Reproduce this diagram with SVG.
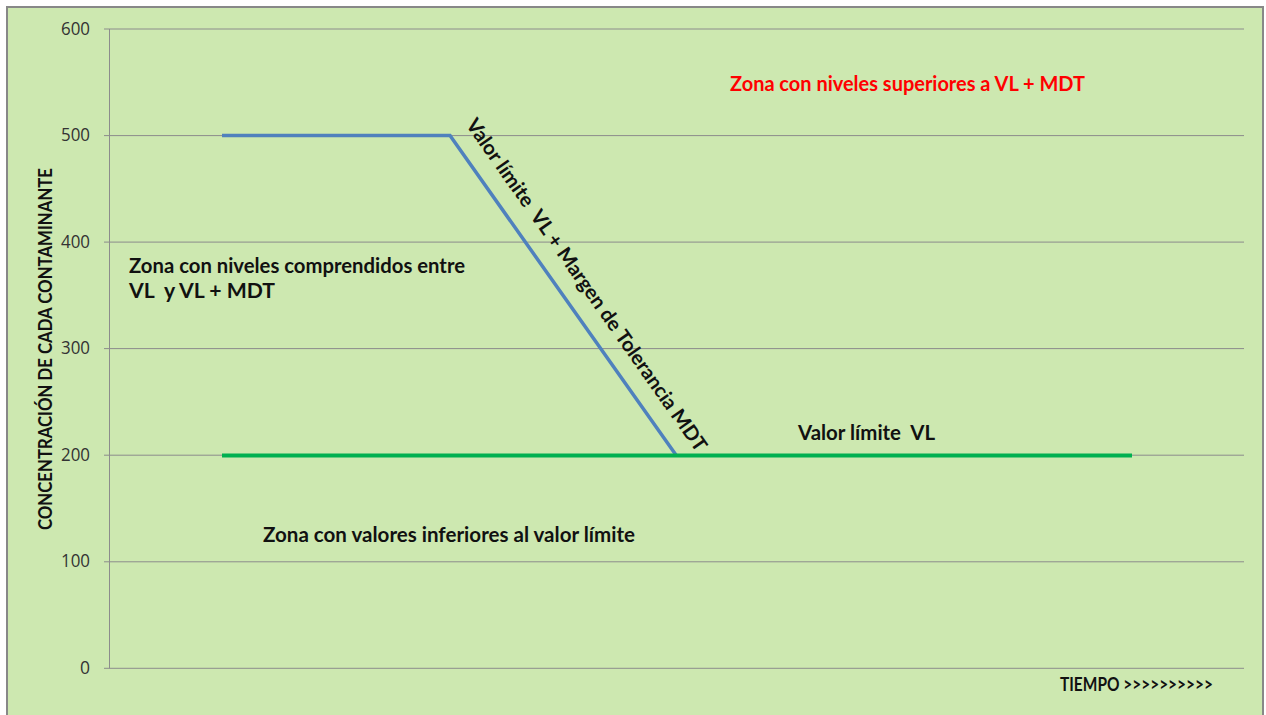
<svg xmlns="http://www.w3.org/2000/svg" width="1266" height="715" viewBox="0 0 1266 715">
<style>
.t{font-family:Lato,"Liberation Sans",sans-serif;font-weight:bold;fill:#111;white-space:pre}
.tick{font-family:"Open Sans","Liberation Sans",sans-serif;font-size:17.5px;fill:#333333;text-anchor:end}
.grid{stroke:#8c8c8c;stroke-width:1;fill:none}
</style>
<rect x="0" y="0" width="1266" height="715" fill="#ffffff"/>
<rect x="7" y="7" width="1256" height="720" fill="#cde8b0" stroke="#888888" stroke-width="2"/>
<g id="axes">
<path class="grid" d="M104 29H1244M104 135.6H1244M104 242.1H1244M104 348.6H1244M104 455.2H1244M104 561.8H1244M104 668.3H1244M109.5 29V668.3"/>
<text class="tick" x="90" y="35" textLength="29" lengthAdjust="spacingAndGlyphs">600</text>
<text class="tick" x="90" y="141" textLength="29" lengthAdjust="spacingAndGlyphs">500</text>
<text class="tick" x="90" y="248" textLength="29" lengthAdjust="spacingAndGlyphs">400</text>
<text class="tick" x="90" y="354" textLength="29" lengthAdjust="spacingAndGlyphs">300</text>
<text class="tick" x="90" y="461" textLength="29" lengthAdjust="spacingAndGlyphs">200</text>
<text class="tick" x="90" y="567" textLength="29" lengthAdjust="spacingAndGlyphs">100</text>
<text class="tick" x="90" y="674">0</text>
<text class="t" x="0" y="0" font-size="19" text-anchor="middle" textLength="362" lengthAdjust="spacingAndGlyphs" transform="translate(51.5 349) rotate(-90)">CONCENTRACIÓN DE CADA CONTAMINANTE</text>
<text class="t" x="1060" y="691" font-size="19" textLength="153" lengthAdjust="spacingAndGlyphs">TIEMPO &gt;&gt;&gt;&gt;&gt;&gt;&gt;&gt;&gt;&gt;</text>
</g>
<g id="connectors">
<polyline points="222,135.6 450,135.6 676,455" fill="none" stroke="#4f81bd" stroke-width="3.5"/>
<line x1="222" y1="455.4" x2="1132" y2="455.4" stroke="#00b050" stroke-width="4"/>
</g>
<g id="label-mdt">
<text class="t" x="581" y="289" font-size="20" text-anchor="middle" textLength="402" lengthAdjust="spacingAndGlyphs" transform="rotate(54.8 581 289)">Valor límite  VL + Margen de Tolerancia MDT</text>
</g>
<g id="zona-superior">
<text class="t" x="730" y="91" font-size="20" textLength="355" lengthAdjust="spacingAndGlyphs" style="fill:#ff0000">Zona con niveles superiores a VL + MDT</text>
</g>
<g id="zona-entre">
<text class="t" x="129" y="273" font-size="20" textLength="336" lengthAdjust="spacingAndGlyphs">Zona con niveles comprendidos entre</text>
<text class="t" x="129" y="298" font-size="20" textLength="146" lengthAdjust="spacingAndGlyphs">VL  y VL + MDT</text>
</g>
<g id="valor-limite">
<text class="t" x="798" y="440" font-size="20" textLength="137" lengthAdjust="spacingAndGlyphs">Valor límite  VL</text>
</g>
<g id="zona-inferior">
<text class="t" x="263" y="542" font-size="20" textLength="372" lengthAdjust="spacingAndGlyphs">Zona con valores inferiores al valor límite</text>
</g>
</svg>
